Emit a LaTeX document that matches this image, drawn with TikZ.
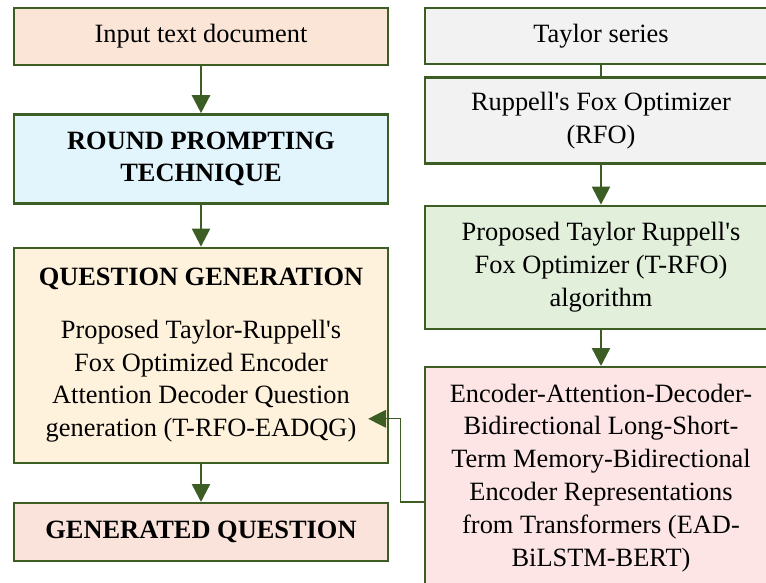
\documentclass[tikz,border=0pt]{standalone}
\usepackage{fontspec}
\setmainfont{Liberation Serif}
\usepackage{xcolor}
\usepackage{tikz}
\usetikzlibrary{arrows.meta, positioning, calc}
\definecolor{edgegreen}{HTML}{3C5E25}
\definecolor{peach}{HTML}{FBE5D6}
\definecolor{skyblue}{HTML}{E2F5FD}
\definecolor{cream}{HTML}{FFF2DC}
\definecolor{salmon}{HTML}{F9E3DA}
\definecolor{lightgray}{HTML}{F2F2F2}
\definecolor{mint}{HTML}{E2EFDA}
\definecolor{rose}{HTML}{FDE5E5}
\tikzset{
    leftbox/.style={
        rectangle,
        draw=edgegreen,
        line width=1.2pt,
        minimum width=187pt,
        align=center,
        font=\fontsize{13.2}{16.4}\selectfont,
    },
    rightbox/.style={
        rectangle,
        draw=edgegreen,
        line width=1.2pt,
        minimum width=176pt,
        align=center,
        font=\fontsize{13.2}{16.4}\selectfont,
    },
    flow/.style={
        color=edgegreen,
        line width=1.2pt,
    },
}

\begin{document}
\begin{tikzpicture}[node distance=20pt,>={Triangle[length=9pt,width=9pt]}]
      \useasboundingbox (0,0) rectangle (383pt,-291.5pt);
      \clip (0,0) rectangle (383pt,-291.5pt);

      % left column
      \node [leftbox, fill=peach, minimum height=28.5pt] (Input) at (100.5pt,-18.25pt) {Input text document};
      \node [leftbox, fill=skyblue, minimum height=44.5pt] (Round) [below=23.5pt of Input] {\textbf{ROUND PROMPTING}\\\textbf{TECHNIQUE}};
      \node [leftbox, fill=cream, minimum height=107.5pt] (QG) [below=21pt of Round] {\textbf{QUESTION GENERATION}\\[10pt]
        Proposed Taylor-Ruppell\textquotesingle s\\Fox Optimized Encoder\\Attention Decoder Question\\generation (T-RFO-EADQG)};
      \node [leftbox, fill=salmon, minimum height=29pt] (GQ) [below=19pt of QG] {\textbf{GENERATED QUESTION}};

      % right column
      \node [rightbox, fill=lightgray, minimum height=28pt] (Taylor) at (300.5pt,-18pt) {Taylor series};
      \node [rightbox, fill=lightgray, minimum height=43pt] (RFO) [below=5.5pt of Taylor] {Ruppell\textquotesingle s Fox Optimizer\\(RFO)};
      \node [rightbox, fill=mint, minimum height=61.5pt] (TRFO) [below=20pt of RFO] {Proposed Taylor Ruppell\textquotesingle s\\Fox Optimizer (T-RFO)\\algorithm};
      \node [rightbox, fill=rose, minimum height=110.5pt] (EAD) [below=18pt of TRFO] {Encoder-Attention-Decoder-\\Bidirectional Long-Short-\\Term Memory-Bidirectional\\Encoder Representations\\from Transformers (EAD-\\BiLSTM-BERT)};

      \coordinate (QG-in) at ($(QG.east)+(-10.5pt,-31.75pt)$);

      \path[->, flow] (Input) edge (Round);
      \path[->, flow] (Round) edge (QG);
      \path[->, flow] (QG) edge (GQ);
      \path[flow] (Taylor) edge (RFO);
      \path[->, flow] (RFO) edge (TRFO);
      \path[->, flow] (TRFO) edge (EAD);
      \draw[->, flow, line width=0.6pt] (EAD.west |- GQ.north) -- ++(-11.5pt,0) |- (QG-in);
    \end{tikzpicture}
\end{document}
